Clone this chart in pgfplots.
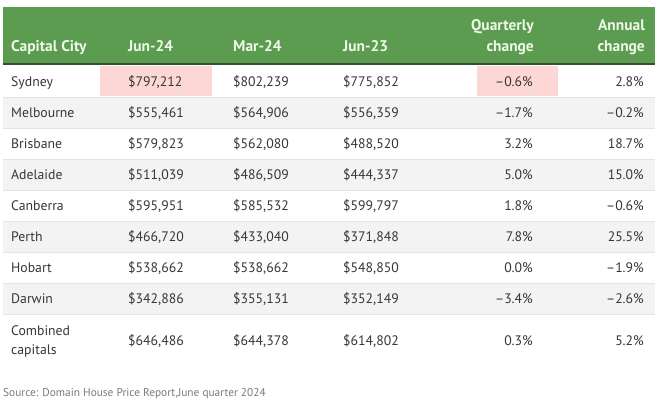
\documentclass[border=0pt]{standalone}
\usepackage{fontspec}
\setmainfont{PT Sans}
\usepackage{pgfplots}
\pgfplotsset{compat=1.18}
\definecolor{hdr}{HTML}{5C9C50}
\definecolor{hdrline}{HTML}{34502F}
\definecolor{hdrtext}{HTML}{EEF7E8}
\definecolor{rowgray}{HTML}{F3F3F3}
\definecolor{sepgray}{HTML}{E4E4E4}
\definecolor{pinkhl}{HTML}{FDD6D6}
\definecolor{bodytext}{HTML}{363636}
\definecolor{srctext}{HTML}{7A7A7A}
\pgfplotsset{
  lbl/.style={draw=none, mark=none, nodes near coords, point meta=explicit symbolic,
    every node near coord/.append style={inner sep=0pt, text=bodytext, font=\fontsize{13.8}{15}\selectfont}},
  lblW/.style={lbl, every node near coord/.append style={anchor=base west}},
  lblE/.style={lbl, every node near coord/.append style={anchor=base east}},
  hdrW/.style={lbl, every node near coord/.append style={anchor=base west, text=hdrtext, font=\fontsize{15.5}{17}\selectfont\bfseries}},
  hdrE/.style={lbl, every node near coord/.append style={anchor=base east, text=hdrtext, font=\fontsize{15.5}{17}\selectfont\bfseries}},
  box/.style={draw=none, mark=none, fill=#1},
}
\begin{document}
\begin{tikzpicture}
\begin{axis}[scale only axis, width=657bp, height=409bp,
  xmin=0, xmax=657, ymin=0, ymax=409, y dir=reverse, hide axis, clip=false]
% backgrounds
\addplot[box=white] coordinates {(0,0) (657,0) (657,409) (0,409)};
\addplot[box=hdr] coordinates {(3,7) (655,7) (655,63) (3,63)};
\addplot[box=hdrline] coordinates {(3,62.5) (655,62.5) (655,65) (3,65)};
\addplot[box=rowgray] coordinates {(3,97) (655,97) (655,128) (3,128)};
\addplot[box=rowgray] coordinates {(3,159) (655,159) (655,190) (3,190)};
\addplot[box=rowgray] coordinates {(3,221) (655,221) (655,252) (3,252)};
\addplot[box=rowgray] coordinates {(3,283) (655,283) (655,314) (3,314)};
\addplot[box=pinkhl] coordinates {(100,66) (212,66) (212,96) (100,96)};
\addplot[box=pinkhl] coordinates {(477,66) (558,66) (558,96) (477,96)};
% separators
\addplot[sepgray, mark=none] coordinates {(3,97) (655,97)};
\addplot[sepgray, mark=none] coordinates {(3,128) (655,128)};
\addplot[sepgray, mark=none] coordinates {(3,159) (655,159)};
\addplot[sepgray, mark=none] coordinates {(3,190) (655,190)};
\addplot[sepgray, mark=none] coordinates {(3,221) (655,221)};
\addplot[sepgray, mark=none] coordinates {(3,252) (655,252)};
\addplot[sepgray, mark=none] coordinates {(3,283) (655,283)};
\addplot[sepgray, mark=none] coordinates {(3,314) (655,314)};
% header
\addplot[hdrW] table[x=x, y=y, meta=t, col sep=semicolon] {
x;y;t
11;51.5;Capital City
128;51.5;Jun-24
233;51.5;Mar-24
343;51.5;Jun-23
};
\addplot[hdrE] table[x=x, y=y, meta=t, col sep=semicolon] {
x;y;t
534;31;Quarterly
534;51.5;change
645;31;Annual
645;51.5;change
};
% capital city
\addplot[lblW] table[x=x, y=y, meta=t, col sep=semicolon] {
x;y;t
11;86.5;Sydney
11;117.5;Melbourne
11;148.5;Brisbane
11;179.5;Adelaide
11;210.5;Canberra
11;241.5;Perth
11;272.5;Hobart
11;303.5;Darwin
11;335;Combined
11;354.5;capitals
};
% Jun-24
\addplot[lblW] table[x=x, y=y, meta=t, col sep=semicolon] {
x;y;t
128;86.5;{\$797,212}
128;117.5;{\$555,461}
128;148.5;{\$579,823}
128;179.5;{\$511,039}
128;210.5;{\$595,951}
128;241.5;{\$466,720}
128;272.5;{\$538,662}
128;303.5;{\$342,886}
128;345;{\$646,486}
};
% Mar-24
\addplot[lblW] table[x=x, y=y, meta=t, col sep=semicolon] {
x;y;t
233;86.5;{\$802,239}
233;117.5;{\$564,906}
233;148.5;{\$562,080}
233;179.5;{\$486,509}
233;210.5;{\$585,532}
233;241.5;{\$433,040}
233;272.5;{\$538,662}
233;303.5;{\$355,131}
233;345;{\$644,378}
};
% Jun-23
\addplot[lblW] table[x=x, y=y, meta=t, col sep=semicolon] {
x;y;t
343;86.5;{\$775,852}
343;117.5;{\$556,359}
343;148.5;{\$488,520}
343;179.5;{\$444,337}
343;210.5;{\$599,797}
343;241.5;{\$371,848}
343;272.5;{\$548,850}
343;303.5;{\$352,149}
343;345;{\$614,802}
};
% Quarterly change
\addplot[lblE] table[x=x, y=y, meta=t, col sep=semicolon] {
x;y;t
533;86.5;{\textendash0.6\%}
533;117.5;{\textendash1.7\%}
533;148.5;{3.2\%}
533;179.5;{5.0\%}
533;210.5;{1.8\%}
533;241.5;{7.8\%}
533;272.5;{0.0\%}
533;303.5;{\textendash3.4\%}
533;345;{0.3\%}
};
% Annual change
\addplot[lblE] table[x=x, y=y, meta=t, col sep=semicolon] {
x;y;t
644;86.5;{2.8\%}
644;117.5;{\textendash0.2\%}
644;148.5;{18.7\%}
644;179.5;{15.0\%}
644;210.5;{\textendash0.6\%}
644;241.5;{25.5\%}
644;272.5;{\textendash1.9\%}
644;303.5;{\textendash2.6\%}
644;345;{5.2\%}
};
% source
\addplot[lbl, every node near coord/.append style={anchor=base west, text=srctext, font=\fontsize{11.4}{13}\selectfont}] table[x=x, y=y, meta=t, col sep=semicolon] {
x;y;t
3;396;{Source: Domain House Price Report,June quarter 2024}
};
\end{axis}
\end{tikzpicture}
\end{document}
